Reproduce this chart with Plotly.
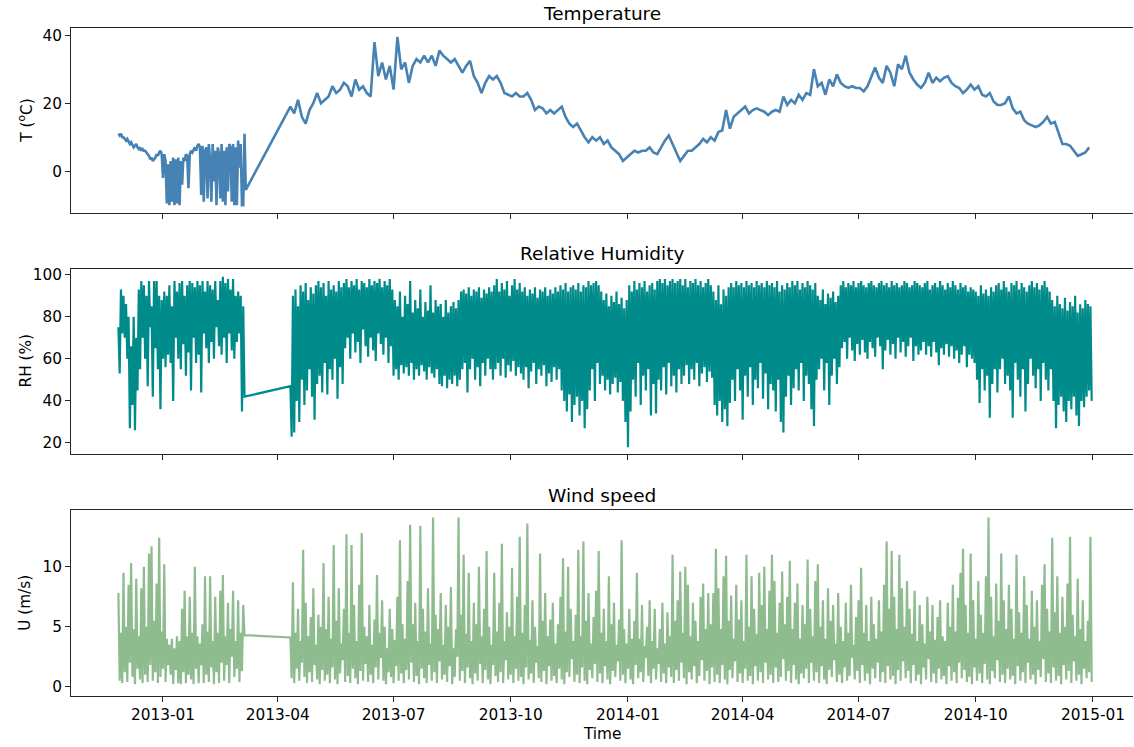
import pandas as pd
import plotly.graph_objects as go
from plotly.subplots import make_subplots

# Two measurement periods separated by a logger outage
START_A = "2012-11-27"
START_B = "2013-04-11"

# Air temperature (deg C): daily in period A, every 3 days in period B
temp_a = [11, 10.5, 11, 10, 10, 9.5, 9, 9.5, 8.5, 8, 8.5,
          7.5, 7, 7.5, 8, 7, 6.5, 7, 6, 6.5, 6,
          6, 5.5, 5, 4.5, 3.5, 4, 3, 3.5, 4, 5, 4.5, 5.5, 6, 5,
          -2, 5, 3, -9.5, 2, -10, 3, -9, 4, -10, 3.5, -9.5, 4, -10, 3,
          -4, 4, 3, 5, 4.5, -5, 5, 6, 5.5, 6.5, 7, 6, 7.5, 8, 7,
          -7, 7.5, -9, 6, 7, -8, 8, 3, -9, 8, -3, 6, -10, 7, 5,
          -8, 8, -9, 6, -10, 7, -6, 8, 7, -9, 8, -10, 7, -10, 9,
          1, 8, -10, -10, 11, -5.5]
temp_b = [19, 17, 21, 16, 14, 18, 20, 23, 20, 21,
          22, 25, 23, 24, 26, 25, 22, 27, 24, 25,
          23, 22, 38, 28, 32, 27, 31, 24, 39.5, 30,
          32, 26, 31, 33, 32, 34, 32, 34, 31, 35.5,
          34, 33, 32, 33, 31, 29, 31, 32.5, 28, 26,
          23, 26, 28, 27, 28, 26, 23, 22.5, 22, 23,
          22, 22, 23, 21, 18, 19, 18.5, 17, 18, 17,
          18, 19, 16, 14, 13, 14, 12, 10, 8.5, 10,
          9, 10, 8, 9, 7, 6, 5, 3, 4, 5,
          6, 5.5, 6, 6, 7, 5.5, 5, 7, 9, 10.5,
          8, 5, 3, 4.5, 6, 6, 7, 8, 9.5, 8.5,
          10, 9, 11.5, 12, 18, 12.5, 16, 17, 18, 19,
          17, 18, 18.5, 18, 17.5, 16.5, 17.5, 18, 17.5, 22,
          19.5, 21, 20, 22.5, 21, 23, 22.5, 30, 25, 26,
          22.5, 27, 25, 28.5, 26, 25, 24.5, 25, 24.5, 24.5,
          23.5, 25, 28, 30.5, 27.5, 26, 31, 29, 25, 31.5,
          30, 34, 29, 27, 25.5, 24.5, 26, 29, 26, 27.5,
          26.5, 27.5, 28, 26, 25, 24.5, 23, 24, 25.5, 24,
          25, 22.5, 22, 23, 20.5, 19.5, 19.5, 20, 22, 18.5,
          17, 17.5, 15, 14, 13.5, 13, 13.5, 14.5, 16, 14,
          14.5, 11, 8, 8, 7.5, 6, 4.5, 5, 5.5, 7]

# Relative humidity (%): alternating daily peak / trough readings
rh_hi_a = [75, 93, 90, 86, 80, 66, 80, 70, 93, 97, 95, 90, 97, 85, 97, 97, 90,
           88, 92, 90, 95, 85, 97, 92, 96, 97, 90, 95, 97, 96, 94, 97, 95, 97,
           92, 97, 95, 93, 97, 88, 97, 99, 96, 98, 93, 98, 90, 92, 90, 85]
rh_lo_a = [53, 72, 70, 60, 27, 38, 26, 45, 55, 70, 60, 47, 75, 42, 65, 55, 36,
           60, 56, 62, 58, 40, 70, 60, 55, 67, 52, 63, 45, 70, 58, 62, 44, 72,
           65, 58, 68, 60, 75, 66, 62, 70, 58, 72, 64, 60, 68, 72, 35, 42]
rh_hi_b = [47, 90, 93, 85, 95, 92, 96, 88, 94, 91, 95, 97, 94, 96, 90,
           97, 93, 95, 92, 97, 94, 96, 98, 94, 97, 95, 98, 93, 97, 96,
           94, 98, 95, 97, 96, 98, 94, 97, 95, 98, 93, 88, 85, 92, 80,
           90, 86, 97, 82, 88, 84, 93, 80, 87, 83, 95, 82, 88, 85, 86,
           80, 88, 82, 85, 87, 84, 88, 92, 93, 91, 94, 90, 93, 92, 94,
           89, 93, 91, 94, 92, 95, 98, 92, 96, 93, 97, 90, 95, 98, 93,
           96, 92, 94, 90, 93, 91, 94, 89, 93, 92, 94, 90, 93, 91, 94,
           92, 95, 93, 96, 92, 94, 95, 93, 96, 92, 95, 94, 97, 95, 96,
           97, 95, 92, 88, 91, 85, 90, 87, 92, 86, 89, 84, 88, 95, 92,
           97, 93, 96, 94, 97, 92, 95, 96, 93, 97, 98, 96, 98, 95, 97,
           98, 96, 97, 98, 95, 98, 94, 97, 96, 98, 95, 97, 94, 96, 98,
           95, 92, 88, 95, 86, 93, 90, 94, 96, 94, 97, 95, 96, 94, 97,
           95, 96, 94, 97, 95, 96, 94, 97, 95, 96, 94, 97, 92, 95, 93,
           96, 94, 97, 95, 97, 93, 96, 94, 97, 95, 93, 96, 90, 88, 93,
           86, 91, 89, 92, 87, 90, 95, 97, 94, 96, 95, 97, 94, 96, 97,
           95, 94, 96, 97, 95, 94, 96, 97, 95, 96, 94, 97, 95, 96, 94,
           95, 97, 96, 94, 95, 97, 96, 95, 94, 96, 97, 93, 95, 96, 94,
           97, 95, 93, 96, 94, 97, 95, 93, 96, 94, 95, 92, 94, 93, 92,
           90, 95, 91, 93, 90, 94, 92, 95, 96, 93, 97, 94, 92, 96, 95,
           97, 93, 96, 94, 92, 95, 97, 94, 96, 93, 95, 97, 94, 92, 88,
           85, 90, 86, 84, 89, 83, 87, 85, 90, 82, 86, 84, 88, 86, 85]
rh_lo_b = [23, 25, 40, 30, 50, 38, 45, 55, 42, 31, 48, 52, 44, 58, 43,
           55, 50, 60, 41, 56, 48, 65, 70, 60, 72, 63, 68, 58, 74, 66,
           61, 70, 64, 59, 72, 67, 62, 70, 58, 66, 52, 55, 50, 57, 53,
           56, 52, 58, 50, 55, 52, 57, 54, 50, 56, 53, 51, 55, 48, 47,
           52, 46, 50, 48, 52, 47, 50, 55, 58, 44, 55, 60, 50, 56, 47,
           58, 52, 60, 55, 50, 55, 58, 52, 60, 51, 57, 54, 59, 52, 56,
           53, 50, 56, 46, 54, 58, 48, 55, 52, 57, 47, 53, 49, 56, 50,
           55, 45, 40, 35, 43, 30, 38, 42, 33, 40, 27, 36, 45, 55, 40,
           58, 48, 52, 45, 50, 43, 48, 51, 44, 49, 40, 30, 18, 35, 50,
           42, 58, 38, 52, 45, 55, 33, 48, 34, 50, 45, 56, 43, 58, 47,
           52, 44, 55, 48, 52, 57, 48, 55, 50, 58, 47, 53, 56, 49, 54,
           51, 38, 33, 40, 30, 36, 28, 39, 50, 40, 55, 45, 31, 52, 42,
           56, 38, 50, 46, 58, 41, 53, 36, 48, 45, 35, 50, 30, 25, 42,
           52, 38, 46, 55, 45, 58, 40, 52, 48, 36, 28, 50, 55, 60, 45,
           58, 38, 52, 60, 48, 56, 65, 68, 60, 70, 64, 59, 67, 62, 69,
           63, 60, 68, 65, 61, 70, 66, 55, 64, 69, 62, 67, 60, 70, 63,
           68, 61, 66, 70, 59, 66, 62, 64, 68, 62, 66, 61, 68, 63, 57,
           65, 62, 67, 61, 66, 60, 64, 58, 62, 66, 56, 62, 60, 58, 50,
           39, 55, 45, 52, 32, 48, 55, 44, 55, 60, 48, 52, 45, 32, 58,
           50, 42, 55, 35, 48, 60, 52, 46, 55, 40, 58, 50, 45, 55, 40,
           27, 38, 42, 35, 30, 40, 36, 42, 33, 28, 40, 37, 42, 45, 40]

# Wind speed (m/s): alternating daily peak / trough readings
wind_hi_a = [7.8, 4.5, 9.5, 5, 8.5, 10.3, 4.8, 9, 4.2, 8.2, 10, 5, 11.1, 11.7,
             5.5, 8.6, 12.4, 4.6, 10.2, 4, 3.5, 4, 3.2, 4.2, 3.8, 6.5, 8, 4.2,
             7.5, 4.5, 10, 4.2, 3.6, 5.2, 9.2, 4.6, 9.2, 3.8, 7.5, 4.5, 8, 9.3,
             4.2, 7, 4.8, 8, 3.8, 7.2, 4.5, 6.8]
wind_lo_a = [0.5, 0.3, 1.2, 0.4, 2, 0.8, 0.2, 1.5, 0.6, 0.3, 1, 0.4, 1.8, 0.5,
             1.2, 0.3, 0.8, 1.5, 0.4, 1.8, 1, 0.2, 1.4, 0.3, 0.2, 1.2, 0.3, 1,
             0.6, 0.2, 1.5, 0.3, 1.8, 0.3, 1, 0.4, 1.6, 0.2, 1.2, 0.3, 2, 0.5,
             1.8, 0.3, 2.5, 0.8, 1.5, 0.4, 1.3, 4.3]
wind_hi_b = [4.1, 8.7, 4.5, 6.5, 3.8, 11.4, 7, 4.2, 5.8, 8.2, 3.5, 6, 5, 10.3, 4.8,
             7.5, 4, 11.8, 5.5, 8.2, 3.6, 6.5, 12.7, 4.5, 11.8, 6.8, 3.8, 8.5, 12.8, 5,
             4.2, 6.8, 3.5, 5.6, 9.3, 4.5, 7.2, 5, 3.2, 6.5, 4.8, 3.9, 7.5, 12.2, 5.2,
             4, 8.8, 13.5, 5.2, 7, 3.8, 13.4, 6.5, 4.6, 8.2, 3.6, 14.1, 6, 4.8, 7.8,
             3.5, 6.8, 5, 8.3, 3.2, 4.8, 14.1, 6, 11, 4.4, 9.5, 3.8, 7, 5.2, 10,
             4.2, 6.5, 11.3, 5, 3.5, 9.5, 4.6, 7, 11.9, 3.8, 6.2, 5, 9.9, 4.2, 7.5,
             12.5, 4.5, 6.8, 13.6, 3.9, 7.2, 5, 3.4, 11.1, 5.5, 7.8, 4.2, 5.6, 7, 3.6,
             5.2, 7.5, 10.7, 4.6, 10, 6.5, 3.8, 6, 11.4, 4.2, 12.1, 5.5, 7.8, 3.6, 5.8,
             8, 11.3, 4.5, 6.5, 3.8, 9.2, 5.2, 7, 3.5, 5.6, 12.2, 4.8, 3.6, 6.5, 4,
             5.5, 9.5, 4, 6.8, 3.4, 5, 7.2, 3.8, 6.5, 3.2, 4.8, 7, 3.6, 6.2, 4.2,
             11, 5.5, 7.2, 9.6, 4.5, 10, 8.5, 4.2, 7, 5.5, 3.8, 7.5, 8.6, 4.8, 7.8,
             5.2, 7.8, 11.5, 8.2, 4.8, 9.2, 10.9, 5.5, 7.6, 4, 8.5, 5.6, 7.2, 3.8, 11,
             5, 9.2, 6.5, 4.4, 9.5, 6.8, 10, 4.8, 8, 11, 8.8, 4.5, 7, 9.6, 5.2,
             7.5, 10.5, 4.8, 7, 8.6, 4, 6.8, 5.2, 10.6, 6.5, 4.2, 8.8, 10.2, 5, 7.2,
             4, 8.2, 5.5, 6.8, 3.6, 7.8, 5, 3.8, 7, 4.5, 8.5, 3.5, 5.8, 7.2, 9.9,
             4.5, 6.8, 3.8, 7.5, 5.2, 4, 7.2, 4.6, 8.5, 12.1, 6.5, 11.3, 7.5, 4.8, 11,
             8.2, 5, 8.8, 6.5, 4.4, 8, 3.8, 6.8, 5.2, 3.6, 7.5, 4.6, 6.8, 3.9, 5.8,
             7.2, 4.2, 3.8, 7, 5, 8.5, 4.6, 7.4, 9.5, 11.5, 6.8, 4.5, 11.1, 7.2, 4,
             8.8, 6, 4.5, 9.2, 14.1, 7.5, 4.2, 8.6, 5.5, 11.1, 7.2, 4.8, 8.5, 6.5, 4,
             11, 6.2, 4.5, 9.2, 6.8, 4, 8, 5, 7.2, 3.8, 8.5, 10.2, 6.5, 4.6, 12.4,
             6.2, 9.2, 4.5, 7.5, 5, 8.6, 12.5, 6, 4.2, 9, 4.8, 7.2, 3.8, 5.5, 12.5]
wind_lo_b = [0.7, 0.3, 1.5, 0.5, 2, 0.8, 0.3, 1.2, 0.4, 1.8, 0.6, 0.2, 1.4, 0.5, 1,
             0.3, 1.6, 0.6, 0.2, 1.1, 2.2, 0.4, 0.9, 0.3, 1.5, 0.7, 0.2, 1.3, 0.5, 1.9,
             0.4, 1, 0.3, 1.6, 0.6, 2.4, 0.5, 0.2, 1.2, 0.8, 0.3, 1.7, 0.5, 1.1, 0.3,
             1.4, 0.6, 2, 0.4, 0.9, 0.2, 1.5, 0.7, 0.3, 1.8, 0.5, 1.2, 0.3, 2.1, 0.6,
             1, 0.4, 1.7, 0.2, 0.8, 2.5, 0.5, 1.3, 0.3, 1.6, 0.7, 0.2, 1.1, 0.5, 1.9,
             0.3, 1.4, 0.6, 0.2, 1.8, 0.9, 0.4, 1.2, 0.3, 2.2, 0.6, 1, 0.3, 1.5, 0.5,
             0.8, 0.2, 1.6, 0.6, 1.1, 0.3, 2, 0.7, 0.4, 1.3, 0.2, 1.7, 0.5, 0.9, 0.3,
             1.5, 0.6, 0.2, 1.2, 0.8, 2.3, 0.4, 1, 0.3, 1.6, 0.5, 0.2, 1.4, 0.7, 1.9,
             0.4, 1.1, 0.3, 1.7, 0.6, 0.2, 1.3, 0.8, 2.1, 0.5, 1, 0.3, 1.5, 0.6, 0.2,
             1.8, 0.7, 1.2, 0.4, 2.4, 0.9, 0.3, 1.5, 0.6, 1.9, 0.4, 1.1, 0.3, 1.6, 0.8,
             0.3, 1.4, 0.5, 2, 0.7, 0.2, 1.2, 0.6, 1.7, 0.3, 0.9, 2.2, 0.5, 1.3, 0.2,
             1.6, 0.4, 1, 0.3, 1.8, 0.6, 0.2, 1.4, 0.7, 2.1, 0.4, 1.1, 0.3, 1.5, 0.5,
             0.9, 0.2, 1.7, 0.5, 1.2, 0.3, 2, 0.6, 1, 0.3, 1.6, 0.4, 0.8, 2.3, 0.5,
             1.3, 0.3, 1.8, 0.6, 0.2, 1.1, 0.7, 1.5, 0.3, 2, 0.5, 1.2, 0.3, 1.7, 0.6,
             0.2, 1.4, 0.8, 2.2, 0.4, 1, 0.3, 1.6, 0.5, 0.9, 2.4, 0.6, 1.3, 0.3, 1.8,
             0.5, 1.1, 0.2, 1.5, 0.7, 2, 0.4, 1.2, 0.3, 1.7, 0.6, 0.9, 0.2, 1.4, 0.5,
             2.1, 0.7, 1.3, 0.3, 1.8, 0.5, 1, 0.2, 1.6, 0.6, 2.3, 0.4, 1.1, 0.3, 1.5,
             0.6, 0.9, 0.2, 1.7, 0.5, 1.2, 0.3, 2, 0.7, 1.4, 0.4, 0.8, 0.2, 1.6, 0.5,
             1.1, 0.3, 1.9, 0.6, 0.2, 1.3, 0.7, 2.2, 0.4, 1, 0.3, 1.5, 0.6, 0.9, 0.2,
             1.7, 0.5, 1.2, 0.3, 2, 0.6, 1, 0.2, 1.4, 0.8, 2.3, 0.4, 1.1, 0.3, 1.6,
             0.5, 0.9, 0.2, 1.8, 0.6, 1.3, 0.3, 2.1, 0.5, 1, 0.2, 1.5, 0.7, 1.2, 0.4]

TITLES = ["Temperature", "Relative Humidity", "Wind speed"]
Y_LABELS = ["T (<sup>o</sup>C)", "RH (%)", "U (m/s)"]
COLORS = ["#4682B4", "#008B8B", "#8FBC8F"]
LINE_W = [2.6, 2.2, 2.2]


def interleave(hi, lo):
    out = []
    for h, l in zip(hi, lo):
        out += [h, l]
    return out


def daily(start, n):
    return list(pd.date_range(start, periods=n, freq="D"))


t_temp = daily(START_A, len(temp_a)) + list(
    pd.date_range(START_B, periods=len(temp_b), freq="3D"))
y_temp = temp_a + temp_b

rh_a = interleave(rh_hi_a, rh_lo_a)
rh_b = interleave(rh_hi_b, rh_lo_b)
t_rh = daily(START_A, len(rh_a)) + daily(START_B, len(rh_b))
y_rh = rh_a + rh_b

wind_a = interleave(wind_hi_a, wind_lo_a)
wind_b = interleave(wind_hi_b, wind_lo_b)
t_wind = daily(START_A, len(wind_a)) + daily(START_B, len(wind_b))
y_wind = wind_a + wind_b

series = [(t_temp, y_temp), (t_rh, y_rh), (t_wind, y_wind)]

fig = make_subplots(rows=3, cols=1, shared_xaxes=True)
for i, ((tx, vy), col, lw) in enumerate(zip(series, COLORS, LINE_W), start=1):
    fig.add_trace(go.Scatter(x=tx, y=vy, mode="lines",
                             line=dict(color=col, width=lw),
                             showlegend=False, hoverinfo="skip"),
                  row=i, col=1)

FONT = "DejaVu Sans, Verdana, sans-serif"
INK = "#262626"
W, H = 1134, 747
M_L, M_R, M_T, M_B = 71, 1, 28, 51
plot_h = H - M_T - M_B

# panel extents in page pixels (top, bottom)
panels = [(28, 213.3), (268.7, 454.3), (510, 695.7)]
y_ranges = [[-12.4, 42.15], [14.6, 102.85], [-0.75, 14.72]]
y_ticks = [[0, 20, 40], [20, 40, 60, 80, 100], [0, 5, 10]]


def to_paper(py):
    return (H - M_B - py) / plot_h


tick_font = dict(family=FONT, size=15.3, color="black")
for i in range(3):
    top, bot = panels[i]
    sfx = "" if i == 0 else str(i + 1)
    fig.layout["yaxis" + sfx].update(
        domain=[to_paper(bot), to_paper(top)], range=y_ranges[i],
        tickvals=y_ticks[i], showline=True, linecolor=INK, linewidth=1.1,
        ticks="outside", ticklen=5, tickwidth=1.1, tickcolor=INK,
        showgrid=False, zeroline=False, tickfont=tick_font)
    fig.layout["xaxis" + sfx].update(
        type="date", range=["2012-10-20 19:00", "2015-02-01 10:00"],
        tick0="2013-01-01", dtick="M3", tickformat="%Y-%m",
        showline=True, mirror=True, linecolor=INK, linewidth=1.1,
        ticks="outside", ticklen=5, tickwidth=1.1, tickcolor=INK,
        showgrid=False, zeroline=False, tickfont=tick_font,
        showticklabels=(i == 2))
    mid = (top + bot) / 2
    fig.add_annotation(text=TITLES[i], xref="paper", yref="paper",
                       x=0.5, y=to_paper(top - 15), xanchor="center",
                       yanchor="middle", showarrow=False,
                       font=dict(family=FONT, size=18.5, color="black"))
    fig.add_annotation(text=Y_LABELS[i], xref="paper", yref="paper",
                       x=(25 - M_L) / (W - M_L - M_R), y=to_paper(mid),
                       xanchor="center", yanchor="middle", textangle=-90,
                       showarrow=False,
                       font=dict(family=FONT, size=15.3, color="black"))

fig.add_annotation(text="Time", xref="paper", yref="paper",
                   x=0.5, y=to_paper(734), xanchor="center",
                   yanchor="middle", showarrow=False,
                   font=dict(family=FONT, size=15.3, color="black"))

fig.update_layout(width=W, height=H, autosize=False,
                  margin=dict(l=M_L, r=M_R, t=M_T, b=M_B),
                  paper_bgcolor="white", plot_bgcolor="white")

fig.write_html("out.html")
